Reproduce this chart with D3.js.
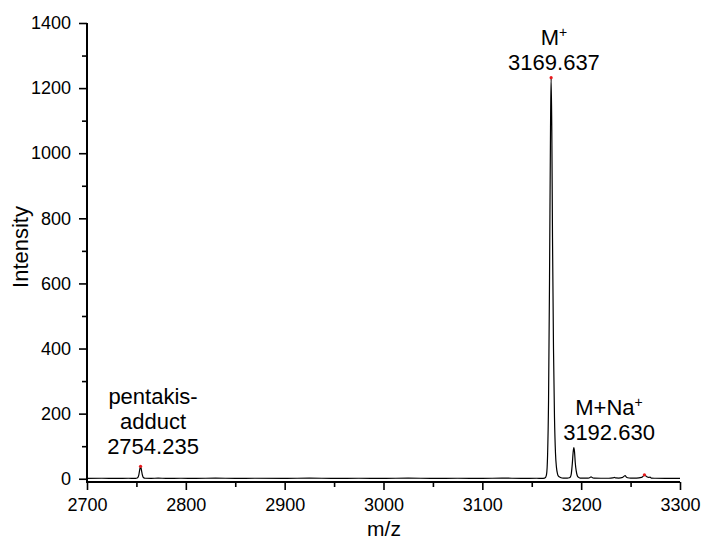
<!DOCTYPE html>
<html>
<head>
<meta charset="utf-8">
<script src="https://cdn.jsdelivr.net/npm/d3@7"></script>
<style>
  html, body { margin: 0; padding: 0; background: #fff; }
  svg { display: block; font-family: "Liberation Sans", Arial, sans-serif; }
</style>
</head>
<body>
<svg id="chart" width="705" height="542"></svg>
<script>
// ---- data ----
const mz = [2700, 2715, 2730, 2742, 2748, 2750, 2751.5, 2752.5, 2753.5, 2754.2, 2755, 2756, 2757, 2759, 2765, 2772, 2780, 2795, 2810, 2830, 2850, 2870, 2900, 2925, 2950, 2975, 3000, 3025, 3050, 3075, 3100, 3120, 3140, 3155, 3160, 3163, 3164, 3165, 3166, 3167, 3168, 3169, 3169.6, 3170.3, 3171, 3172, 3173, 3174, 3175, 3176, 3177, 3179, 3182, 3186, 3188, 3189, 3190, 3191, 3192, 3192.6, 3193.3, 3194, 3195, 3196, 3197, 3199, 3203, 3207, 3209, 3210, 3211, 3213, 3220, 3228, 3232, 3233.5, 3235, 3238, 3242, 3243.5, 3244.5, 3245.5, 3247, 3250, 3256, 3261, 3263, 3264, 3265, 3266.5, 3268.5, 3269.7, 3271, 3275, 3285, 3300];
const intensity = [1, 1.5, 1, 1.5, 1, 1.5, 4, 13, 30, 38, 28, 12, 4, 1.5, 1, 2, 1, 1.5, 1, 2, 1, 1.5, 1, 2, 1, 1.5, 1, 2, 1, 1.5, 1, 2, 1, 1.5, 1, 2, 4, 14, 70, 240, 620, 1080, 1232, 1070, 740, 400, 190, 80, 35, 16, 8, 4, 2, 2, 3, 5, 15, 45, 85, 96, 82, 50, 24, 10, 5, 2, 2, 2, 4, 6, 4, 2, 1.5, 1.5, 2.5, 4, 2.5, 2, 4, 8, 10, 6, 3, 2, 2, 4, 9, 12, 10, 6, 4, 5, 2, 1.5, 1, 1];

const xTicks = [2700, 2800, 2900, 3000, 3100, 3200, 3300];
const xMinorTicks = [2750, 2850, 2950, 3050, 3150, 3250];
const yTicks = [0, 200, 400, 600, 800, 1000, 1200, 1400];
const yMinorTicks = [100, 300, 500, 700, 900, 1100, 1300];

const pickedMz = [2754.2, 3169.6, 3264];
const pickedInt = [38, 1232, 12];

const annotations = [
  { lines: ["M", "3169.637"], sup: [true, false] },
  { lines: ["M+Na", "3192.630"], sup: [true, false] },
  { lines: ["pentakis-", "adduct", "2754.235"], sup: [false, false, false] }
];
const annotationMz = [3172.5, 3228.2, 2766.8];
const annotationTopY = [45, 415, 404];

// ---- layout ----
const svg = d3.select("#chart");
const padL = 87, padR = 680, padT = 23, padB = 482;

const x = d3.scaleLinear().domain([2700, 3300]).range([padL, padR]);
const y = d3.scaleLinear().domain([-10, 1400]).range([padB, padT]);

// spectrum
const pts = mz.map((m, i) => [m, intensity[i]]);
svg.append("path")
  .datum(pts)
  .attr("fill", "none")
  .attr("stroke", "#000")
  .attr("stroke-width", 1.2)
  .attr("stroke-linejoin", "round")
  .attr("d", d3.line().x(d => x(d[0])).y(d => y(d[1])).curve(d3.curveMonotoneX));

// picked peak markers
svg.selectAll("circle.pick")
  .data(pickedMz)
  .enter().append("circle")
  .attr("class", "pick")
  .attr("cx", d => x(d))
  .attr("cy", (d, i) => y(pickedInt[i]))
  .attr("r", 1.6)
  .attr("fill", "#e8191c");

// axes
const fontTick = 18;
const xAxis = svg.append("g")
  .attr("transform", `translate(0,${padB})`)
  .call(d3.axisBottom(x).tickValues(xTicks).tickSize(8).tickSizeOuter(0).tickPadding(8).tickFormat(d3.format("d")));
svg.append("g")
  .attr("transform", `translate(0,${padB})`)
  .call(d3.axisBottom(x).tickValues(xMinorTicks).tickSize(5).tickSizeOuter(0).tickFormat(""))
  .call(g => g.select(".domain").remove());

const yAxis = svg.append("g")
  .attr("transform", `translate(${padL},0)`)
  .call(d3.axisLeft(y).tickValues(yTicks).tickSize(8).tickSizeOuter(0).tickPadding(8).tickFormat(d3.format("d")));
svg.append("g")
  .attr("transform", `translate(${padL},0)`)
  .call(d3.axisLeft(y).tickValues(yMinorTicks).tickSize(5).tickSizeOuter(0).tickFormat(""))
  .call(g => g.select(".domain").remove());

svg.selectAll(".tick line").attr("stroke", "#000").attr("stroke-width", 1.6);
svg.selectAll(".domain").attr("stroke", "#000").attr("stroke-width", 2);
svg.selectAll(".tick text")
  .attr("fill", "#000")
  .style("font-size", fontTick + "px")
  .style("font-family", "'Liberation Sans', Arial, sans-serif");
xAxis.select(".domain").attr("d", `M${padL - 1},0H${padR}`);
yAxis.select(".domain").attr("d", `M0,${padT}V${padB + 1}`);

// axis titles
svg.append("text")
  .attr("x", 384).attr("y", 536)
  .attr("text-anchor", "middle")
  .style("font-size", "21px")
  .text("m/z");
svg.append("text")
  .attr("transform", `translate(28,247) rotate(-90)`)
  .attr("text-anchor", "middle")
  .style("font-size", "22px")
  .text("Intensity");

// annotations
annotations.forEach((a, i) => {
  const cx = x(annotationMz[i]);
  a.lines.forEach((line, j) => {
    const t = svg.append("text")
      .attr("x", cx)
      .attr("y", annotationTopY[i] + j * 25)
      .attr("text-anchor", "middle")
      .style("font-size", "22px");
    t.append("tspan").text(line);
    if (a.sup[j]) {
      t.append("tspan").attr("dy", -8).style("font-size", "14px").text("+");
    }
  });
});
</script>
</body>
</html>
